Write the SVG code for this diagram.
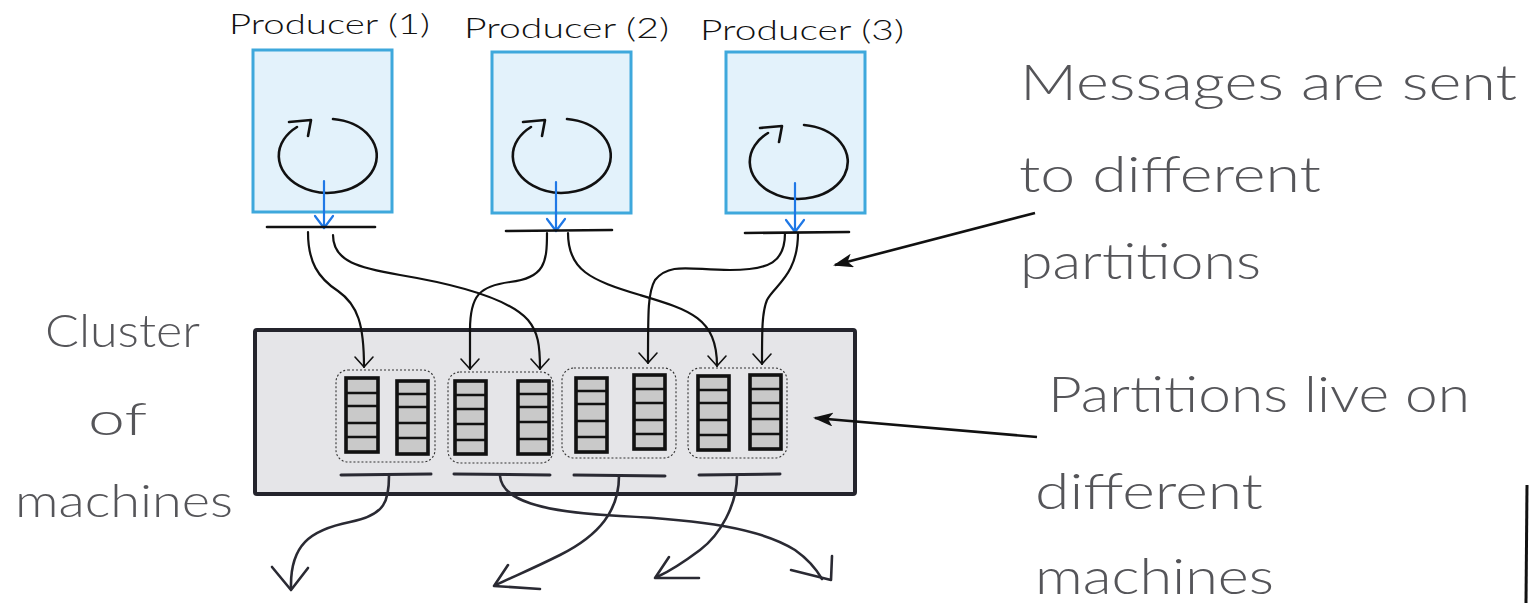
<svg xmlns="http://www.w3.org/2000/svg" width="1530" height="603" viewBox="0 0 1530 603">
  <style>
    .hand { font-family: Lato, "Open Sans", "Liberation Sans", sans-serif; font-weight: 300; }
    .note { fill: #555559; font-size: 50px; }
    .side { fill: #555559; font-size: 46px; }
    .plabel { fill: #111; font-size: 28px; }
    .pbox { fill: #e3f2fb; stroke: #3ea8dc; stroke-width: 3; }
    .loop { fill: none; stroke: #111; stroke-width: 2.6; stroke-linecap: round; stroke-linejoin: round; }
    .emit { fill: none; stroke: #1f78e6; stroke-width: 2.2; stroke-linecap: round; stroke-linejoin: round; }
    .bar { stroke: #111; stroke-width: 2.6; stroke-linecap: round; }
    .cluster { fill: #e5e5e8; stroke: #24242c; stroke-width: 4; stroke-linejoin: round; }
    .group { fill: none; stroke: #333; stroke-width: 1.1; stroke-dasharray: 2 2; }
    .col { fill: #c9c9c9; stroke: #111; stroke-width: 3.6; }
    .cell { stroke: #111; stroke-width: 2.4; }
    .obar { stroke: #2a2a33; stroke-width: 3; stroke-linecap: round; }
    .wire { fill: none; stroke: #111; stroke-width: 2.2; stroke-linecap: round; }
    .out { fill: none; stroke: #2a2a33; stroke-width: 2.6; stroke-linecap: round; stroke-linejoin: round; }
    .pointer { fill: none; stroke: #111; stroke-width: 2.6; }
  </style>
  <defs>
    <!-- open V head, drawn pointing along +x so orient="auto" follows the wire -->
    <marker id="vhead" viewBox="0 0 14 22" refX="12" refY="11" markerWidth="14" markerHeight="22" markerUnits="userSpaceOnUse" orient="auto">
      <path d="M2,2 L12,11 L2,20" fill="none" stroke="#111" stroke-width="1.6" stroke-linecap="round" stroke-linejoin="round"/>
    </marker>
    <marker id="solid" viewBox="0 0 20 14" refX="18" refY="7" markerWidth="20" markerHeight="14" markerUnits="userSpaceOnUse" orient="auto">
      <path d="M0,0 L20,7 L0,14 L5,7 Z" fill="#111"/>
    </marker>
  </defs>

  <!-- producers -->
  <g id="producer-1">
    <text class="hand plabel" x="229" y="34" textLength="201" lengthAdjust="spacingAndGlyphs">Producer (1)</text>
    <rect class="pbox" x="253" y="50" width="139" height="162"/>
    <path class="loop" d="M333,119 A49 37 0 1 1 297,127"/>
    <path class="loop" d="M289,122 L311,120 L308,136"/>
    <path class="emit" d="M324,181 L324,228 M315,216 L324,228 L333,216"/>
    <line class="bar" x1="267" y1="227" x2="375" y2="227"/>
  </g>
  <g id="producer-2">
    <text class="hand plabel" x="464" y="38" textLength="205" lengthAdjust="spacingAndGlyphs">Producer (2)</text>
    <rect class="pbox" x="492" y="52" width="139" height="161"/>
    <path class="loop" d="M567,119 A49 37 0 1 1 531,127"/>
    <path class="loop" d="M523,122 L545,120 L542,136"/>
    <path class="emit" d="M556,182 L556,231 M547,219 L556,231 L565,219"/>
    <line class="bar" x1="506" y1="231" x2="612" y2="230"/>
  </g>
  <g id="producer-3">
    <text class="hand plabel" x="700" y="40" textLength="204" lengthAdjust="spacingAndGlyphs">Producer (3)</text>
    <rect class="pbox" x="726" y="52" width="139" height="161"/>
    <path class="loop" d="M804,125 A49 37 0 1 1 768,133"/>
    <path class="loop" d="M760,128 L782,126 L779,142"/>
    <path class="emit" d="M795,183 L795,232 M786,220 L795,232 L804,220"/>
    <line class="bar" x1="745" y1="233" x2="849" y2="232"/>
  </g>

  <!-- cluster of machines with partitions -->
  <g id="cluster">
    <rect class="cluster" x="255" y="330" width="600" height="164" rx="2"/>
    <g id="machine-1">
      <rect class="group" x="336" y="370" width="99" height="92" rx="12"/>
      <rect class="col" x="346" y="378" width="32" height="74"/>
      <path class="cell" d="M346,393 H378 M346,406 H378 M346,423 H378 M346,437 H378"/>
      <rect class="col" x="397" y="381" width="31" height="73"/>
      <path class="cell" d="M397,394 H428 M397,407 H428 M397,423 H428 M397,438 H428"/>
      <line class="obar" x1="341" y1="475" x2="431" y2="474"/>
    </g>
    <g id="machine-2">
      <rect class="group" x="448" y="372" width="105" height="91" rx="12"/>
      <rect class="col" x="455" y="381" width="31" height="73"/>
      <path class="cell" d="M455,395 H486 M455,409 H486 M455,424 H486 M455,440 H486"/>
      <rect class="col" x="518" y="381" width="31" height="73"/>
      <path class="cell" d="M518,394 H549 M518,407 H549 M518,422 H549 M518,439 H549"/>
      <line class="obar" x1="454" y1="474" x2="550" y2="475"/>
    </g>
    <g id="machine-3">
      <rect class="group" x="562" y="368" width="114" height="90" rx="12"/>
      <rect class="col" x="576" y="378" width="31" height="74"/>
      <path class="cell" d="M576,391 H607 M576,404 H607 M576,421 H607 M576,437 H607"/>
      <rect class="col" x="634" y="375" width="31" height="74"/>
      <path class="cell" d="M634,389 H665 M634,403 H665 M634,420 H665 M634,434 H665"/>
      <line class="obar" x1="574" y1="475" x2="665" y2="476"/>
    </g>
    <g id="machine-4">
      <rect class="group" x="688" y="368" width="99" height="90" rx="12"/>
      <rect class="col" x="698" y="376" width="31" height="74"/>
      <path class="cell" d="M698,390 H729 M698,403 H729 M698,420 H729 M698,435 H729"/>
      <rect class="col" x="750" y="375" width="31" height="74"/>
      <path class="cell" d="M750,389 H781 M750,403 H781 M750,419 H781 M750,434 H781"/>
      <line class="obar" x1="699" y1="475" x2="780" y2="474"/>
    </g>
  </g>

  <!-- connectors -->
  <g id="connectors">
    <path class="wire" marker-end="url(#vhead)" d="M308,232 C308,262 318,278 338,291 C358,305 364,325 364,367"/>
    <path class="wire" marker-end="url(#vhead)" d="M333,235 C333,262 360,268 400,275 C460,285 510,300 528,320 C538,332 540,345 540,369"/>
    <path class="wire" marker-end="url(#vhead)" d="M547,233 C547,262 545,278 510,282 C480,286 470,295 470,330 L470,369"/>
    <path class="wire" marker-end="url(#vhead)" d="M568,233 C568,270 590,280 640,295 C690,310 717,318 717,366"/>
    <path class="wire" marker-end="url(#vhead)" d="M785,233 C785,262 770,270 730,270 C690,270 670,262 655,280 C648,292 648,310 648,363"/>
    <path class="wire" marker-end="url(#vhead)" d="M798,233 C798,275 775,285 767,300 C762,312 762,330 762,364"/>

    <path class="out" d="M389,476 C389,500 386,515 350,522 C310,530 290,545 291,588"/>
    <path class="out" d="M272,567 L291,590 L308,568"/>
    <path class="out" stroke-width="4" d="M500,476 C502,500 540,512 620,516 C700,520 760,528 795,550 C812,562 818,572 822,579"/>
    <path class="out" d="M791,570 L831,580 L832,556"/>
    <path class="out" d="M619,476 C619,510 600,535 560,555 C530,570 510,578 496,585"/>
    <path class="out" d="M508,565 L494,586 L540,589"/>
    <path class="out" d="M737,476 C737,505 720,535 700,550 C680,565 668,572 657,577"/>
    <path class="out" d="M669,557 L655,578 L699,578"/>

    <path class="pointer" marker-end="url(#solid)" d="M1035,213 L835,265"/>
    <path class="pointer" marker-end="url(#solid)" d="M1037,437 L815,418"/>
  </g>

  <!-- annotations -->
  <g id="notes">
    <text class="hand note" x="1020" y="100" textLength="497" lengthAdjust="spacingAndGlyphs">Messages are sent</text>
    <text class="hand note" x="1019" y="192" textLength="302" lengthAdjust="spacingAndGlyphs">to different</text>
    <text class="hand note" x="1020" y="279" textLength="241" lengthAdjust="spacingAndGlyphs">partitions</text>
    <text class="hand note" x="1048" y="412" textLength="422" lengthAdjust="spacingAndGlyphs">Partitions live on</text>
    <text class="hand note" x="1035" y="509" textLength="228" lengthAdjust="spacingAndGlyphs">different</text>
    <text class="hand note" x="1035" y="594" textLength="239" lengthAdjust="spacingAndGlyphs">machines</text>
    <text class="hand side" x="45" y="347" textLength="155" lengthAdjust="spacingAndGlyphs">Cluster</text>
    <text class="hand side" x="88" y="435" textLength="59" lengthAdjust="spacingAndGlyphs">of</text>
    <text class="hand side" x="15" y="517" textLength="218" lengthAdjust="spacingAndGlyphs">machines</text>
  </g>

  <!-- frame edge at the lower right -->
  <line x1="1527" y1="485" x2="1526" y2="603" stroke="#111" stroke-width="3"/>
</svg>
